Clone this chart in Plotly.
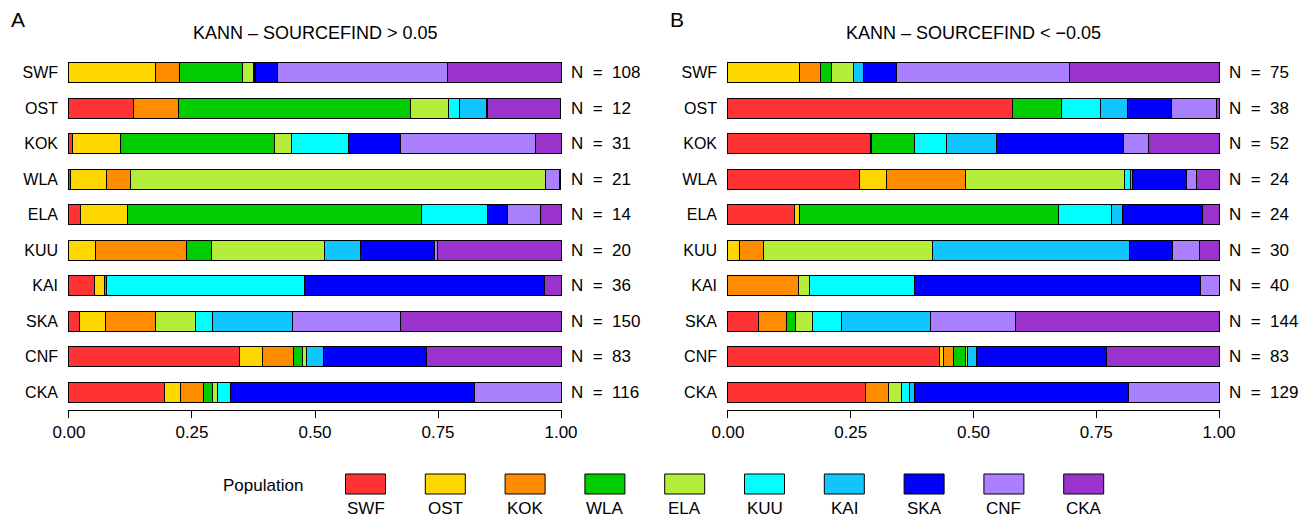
import plotly.graph_objects as go

pops = ["SWF", "OST", "KOK", "WLA", "ELA", "KUU", "KAI", "SKA", "CNF", "CKA"]
colors = ["#FF3333", "#FFD700", "#FF8C00", "#00CC00", "#B5EE3A",
          "#00FFFF", "#11C6FF", "#0000FF", "#AA80FF", "#9933CC"]
rows = ["SWF", "OST", "KOK", "WLA", "ELA", "KUU", "KAI", "SKA", "CNF", "CKA"]

# proportions per row, in population order (panel A: KANN - SOURCEFIND > 0.05)
a_props = {
    "SWF": [0, 0.1755, 0.049, 0.129, 0.0215, 0.003, 0.002, 0.043, 0.347, 0.230],
    "OST": [0.131, 0, 0.092, 0.472, 0.0755, 0.0227, 0.0553, 0, 0.003, 0.148],
    "KOK": [0.008, 0.097, 0, 0.312, 0.035, 0.116, 0, 0.105, 0.275, 0.052],
    "WLA": [0.004, 0.0715, 0.049, 0, 0.844, 0, 0, 0, 0.029, 0.002],
    "ELA": [0.023, 0.095, 0, 0.598, 0, 0.135, 0, 0.040, 0.068, 0.041],
    "KUU": [0, 0.054, 0.1855, 0.050, 0.229, 0, 0.0735, 0.151, 0.006, 0.251],
    "KAI": [0.051, 0.022, 0, 0.003, 0, 0.402, 0, 0.489, 0, 0.033],
    "SKA": [0.021, 0.053, 0.1025, 0, 0.080, 0.035, 0.162, 0, 0.221, 0.3255],
    "CNF": [0.347, 0.047, 0.062, 0.019, 0.007, 0, 0.036, 0.209, 0, 0.273],
    "CKA": [0.194, 0.033, 0.046, 0.018, 0.011, 0.026, 0, 0.497, 0.175, 0],
}
# panel B: KANN - SOURCEFIND < -0.05
b_props = {
    "SWF": [0, 0.146, 0.043, 0.0215, 0.046, 0, 0.020, 0.066, 0.352, 0.3055],
    "OST": [0.579, 0, 0, 0.100, 0, 0.079, 0.056, 0.089, 0.091, 0.006],
    "KOK": [0.290, 0.003, 0, 0.086, 0, 0.0655, 0.103, 0.258, 0.050, 0.1445],
    "WLA": [0.268, 0.055, 0.161, 0, 0.3225, 0.014, 0.003, 0.1105, 0.021, 0.045],
    "ELA": [0.1345, 0.012, 0, 0.527, 0, 0.108, 0.022, 0.162, 0, 0.0345],
    "KUU": [0, 0.023, 0.049, 0, 0.345, 0, 0.4015, 0.087, 0.054, 0.0405],
    "KAI": [0, 0, 0.143, 0, 0.023, 0.214, 0, 0.583, 0.037, 0],
    "SKA": [0.0625, 0, 0.057, 0.019, 0.0345, 0.059, 0.180, 0, 0.174, 0.414],
    "CNF": [0.430, 0.009, 0.021, 0.024, 0.003, 0, 0.019, 0.265, 0, 0.229],
    "CKA": [0.281, 0, 0.046, 0, 0.027, 0.015, 0.0115, 0.435, 0.1845, 0],
}
a_n = [108, 12, 31, 21, 14, 20, 36, 150, 83, 116]
b_n = [75, 38, 52, 24, 24, 30, 40, 144, 83, 129]

title_a = "KANN \u2013 SOURCEFIND > 0.05"
title_b = "KANN \u2013 SOURCEFIND < \u22120.05"
tick_vals = [0, 0.25, 0.5, 0.75, 1.0]
tick_text = ["0.00", "0.25", "0.50", "0.75", "1.00"]

FONT = "Liberation Sans, Arial, Helvetica, sans-serif"
W, H = 1307, 519

fig = go.Figure()

for panel, props, xa, ya in [("A", a_props, "x", "y"), ("B", b_props, "x2", "y2")]:
    for j, pop in enumerate(pops):
        vals = [props[r][j] if props[r][j] > 0 else None for r in rows]
        fig.add_trace(go.Bar(
            y=rows, x=vals, orientation="h", name=pop,
            marker=dict(color=colors[j], line=dict(color="black", width=1)),
            width=0.56, xaxis=xa, yaxis=ya, showlegend=False,
        ))

fig.update_layout(barmode="stack")

def px_x(p):
    return p / W

def px_y(p):
    return 1 - p / H

xdomA = [px_x(68), px_x(562)]
xdomB = [px_x(727), px_x(1220)]
ydom = [px_y(410), px_y(55)]

axis_common = dict(
    range=[-0.002, 1.002], tickvals=tick_vals, ticktext=tick_text,
    showline=True, linecolor="black", linewidth=1,
    ticks="outside", ticklen=7, tickwidth=1, tickcolor="black",
    showgrid=False, zeroline=False, automargin=False,
    tickfont=dict(family=FONT, size=17, color="black"),
)
yaxis_common = dict(
    categoryorder="array", categoryarray=rows, range=[9.5, -0.5],
    showline=False, showgrid=False, zeroline=False, ticks="",
    ticklabelstandoff=9, automargin=False,
    tickfont=dict(family=FONT, size=16, color="black"),
)
fig.update_layout(
    xaxis=dict(domain=xdomA, anchor="y", **axis_common),
    yaxis=dict(domain=ydom, anchor="x", **yaxis_common),
    xaxis2=dict(domain=xdomB, anchor="y2", **axis_common),
    yaxis2=dict(domain=ydom, anchor="x2", **yaxis_common),
)

ann = []
for xr, yr, ns in [("x", "y", a_n), ("x2", "y2", b_n)]:
    for r, n in zip(rows, ns):
        ann.append(dict(x=1.0, y=r, xref=xr, yref=yr, text=f"N\u00a0\u00a0=\u00a0\u00a0{n}",
                        showarrow=False, xanchor="left", xshift=8,
                        font=dict(family=FONT, size=17, color="black")))

ann.append(dict(x=px_x(315), y=px_y(33), xref="paper", yref="paper", text=title_a,
                showarrow=False, xanchor="center", yanchor="middle",
                font=dict(family=FONT, size=18, color="black")))
ann.append(dict(x=px_x(973), y=px_y(33), xref="paper", yref="paper", text=title_b,
                showarrow=False, xanchor="center", yanchor="middle",
                font=dict(family=FONT, size=18, color="black")))
ann.append(dict(x=px_x(18), y=px_y(19), xref="paper", yref="paper", text="A",
                showarrow=False, xanchor="center", yanchor="middle",
                font=dict(family=FONT, size=21, color="black")))
ann.append(dict(x=px_x(677), y=px_y(19), xref="paper", yref="paper", text="B",
                showarrow=False, xanchor="center", yanchor="middle",
                font=dict(family=FONT, size=21, color="black")))

# legend
ann.append(dict(x=px_x(263), y=px_y(485), xref="paper", yref="paper", text="Population",
                showarrow=False, xanchor="center", yanchor="middle",
                font=dict(family=FONT, size=17, color="black")))
shapes = []
for j, pop in enumerate(pops):
    cx = 365.5 + j * 79.8
    shapes.append(dict(type="rect", xref="paper", yref="paper",
                       x0=px_x(cx - 20), x1=px_x(cx + 20),
                       y0=px_y(494), y1=px_y(474),
                       fillcolor=colors[j], line=dict(color="black", width=1)))
    ann.append(dict(x=px_x(cx), y=px_y(508), xref="paper", yref="paper", text=pop,
                    showarrow=False, xanchor="center", yanchor="middle",
                    font=dict(family=FONT, size=17, color="black")))

fig.update_layout(
    annotations=ann, shapes=shapes,
    width=W, height=H, margin=dict(l=0, r=0, t=0, b=0),
    paper_bgcolor="white", plot_bgcolor="white",
    font=dict(family=FONT, size=17, color="black"),
)

fig.write_html("out.html")
